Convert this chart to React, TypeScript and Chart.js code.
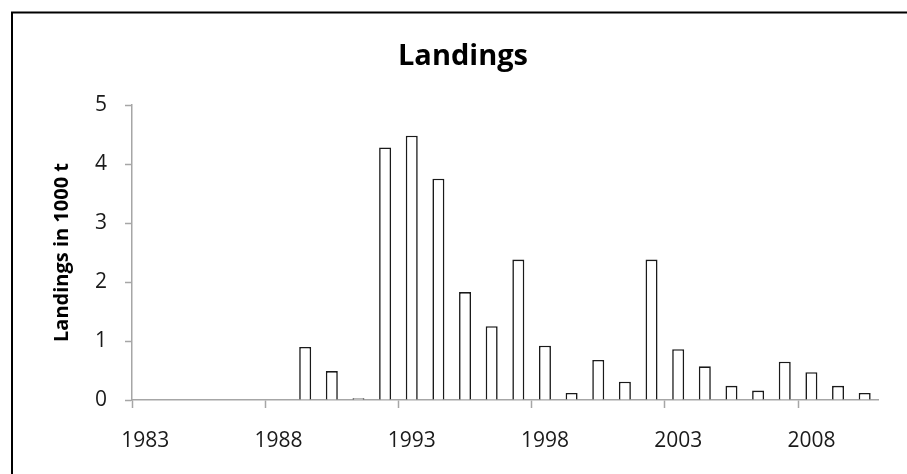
import { useEffect, useRef } from "react";
import { Chart, registerables, type ChartConfiguration, type Plugin } from "chart.js";

Chart.register(...registerables);

const years: string[] = [
  "1983", "1984", "1985", "1986", "1987", "1988", "1989", "1990", "1991", "1992",
  "1993", "1994", "1995", "1996", "1997", "1998", "1999", "2000", "2001", "2002",
  "2003", "2004", "2005", "2006", "2007", "2008", "2009", "2010",
];

// landings in 1000 t, no data before 1989
const landings: (number | null)[] = [
  null, null, null, null, null, null, 0.9, 0.49, 0.03, 4.28,
  4.48, 3.75, 1.83, 1.25, 2.38, 0.92, 0.12, 0.68, 0.31, 2.38,
  0.86, 0.57, 0.24, 0.16, 0.65, 0.47, 0.24, 0.12,
];

const yTicks: number[] = [0, 1, 2, 3, 4, 5];

const AXIS = "#a6a6a6";

const frame: Plugin<"bar"> = {
  id: "frame",
  afterDraw(chart) {
    const { ctx, width, height } = chart;
    ctx.save();
    ctx.strokeStyle = "#000";
    ctx.lineWidth = 2;
    ctx.beginPath();
    ctx.moveTo(12, height);
    ctx.lineTo(12, 12.5);
    ctx.lineTo(width, 12.5);
    ctx.stroke();
    ctx.restore();
  },
};

function LandingsChart() {
  const ref = useRef<HTMLCanvasElement | null>(null);
  const chartRef = useRef<Chart<"bar"> | null>(null);

  useEffect(() => {
    const el = ref.current;
    if (!el) return;

    chartRef.current?.destroy();
    Chart.defaults.font.family = "'Open Sans', sans-serif";

    const cfg: ChartConfiguration<"bar"> = {
      type: "bar",
      data: {
        labels: years,
        datasets: [
          {
            label: "Landings",
            data: landings,
            backgroundColor: "#ffffff",
            borderColor: "#1a1a1a",
            borderWidth: 1.6,
            categoryPercentage: 1,
            barPercentage: 0.45,
          },
        ],
      },
      options: {
        animation: false,
        responsive: true,
        maintainAspectRatio: false,
        layout: { padding: { left: 48, right: 29, top: 0, bottom: 0 } },
        plugins: {
          legend: { display: false },
          tooltip: { enabled: false },
          title: {
            display: true,
            text: "Landings",
            color: "#000",
            font: { size: 29, weight: "bold" },
            padding: { top: 39.6, bottom: 30.6 },
          },
        },
        scales: {
          x: {
            afterFit: (scale) => {
              scale.height = 74;
            },
            border: { color: AXIS, width: 1.5 },
            grid: {
              offset: true,
              drawOnChartArea: false,
              tickLength: 8,
              tickWidth: 1.5,
              tickColor: (ctx) => (ctx.index % 5 === 0 ? AXIS : "transparent"),
            },
            ticks: {
              autoSkip: false,
              maxRotation: 0,
              padding: 20,
              color: "#1a1a1a",
              font: { size: 21 },
              callback: (_v, i) => (i % 5 === 0 ? years[i] : ""),
            },
          },
          y: {
            min: 0,
            max: 5,
            afterFit: (scale) => {
              scale.width = 84;
            },
            afterBuildTicks: (scale) => {
              scale.ticks = yTicks.map((v) => ({ value: v }));
            },
            border: { color: AXIS, width: 1.5 },
            grid: {
              drawOnChartArea: false,
              tickLength: 7,
              tickWidth: 1.5,
              tickColor: AXIS,
            },
            ticks: {
              padding: 18,
              color: "#1a1a1a",
              font: { size: 21 },
            },
            title: {
              display: true,
              text: "Landings in 1000 t",
              color: "#000",
              font: { size: 20, weight: "bold" },
              padding: { top: 2, bottom: 0 },
            },
          },
        },
      },
      plugins: [frame],
    };

    chartRef.current = new Chart(el, cfg);

    return () => {
      chartRef.current?.destroy();
      chartRef.current = null;
    };
  }, []);

  return <canvas ref={ref} />;
}

export default function App() {
  return (
    <div style={{ position: "fixed", left: 0, top: 0, width: 907, height: 474, background: "#fff" }}>
      <LandingsChart />
    </div>
  );
}
